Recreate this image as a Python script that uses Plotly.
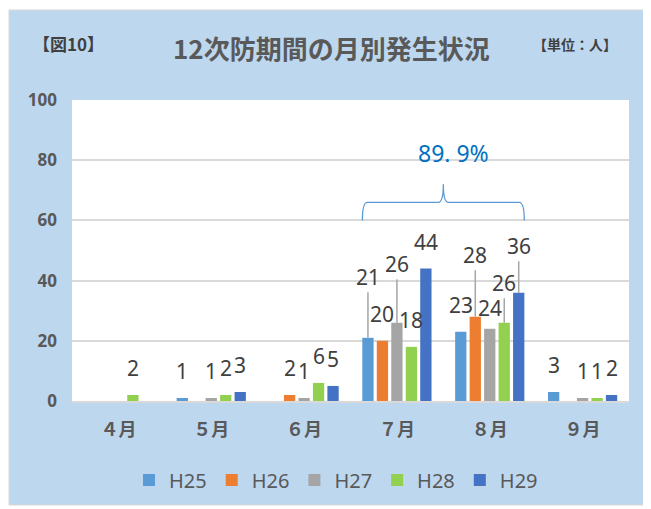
import plotly.graph_objects as go

# ---- data ----
months = ["４月", "５月", "６月", "７月", "８月", "９月"]
series_names = ["H25", "H26", "H27", "H28", "H29"]
h25 = [0, 1, 0, 21, 23, 3]
h26 = [0, 0, 2, 20, 28, 0]
h27 = [0, 1, 1, 26, 24, 1]
h28 = [2, 2, 6, 18, 26, 1]
h29 = [0, 3, 5, 44, 36, 2]
values = [h25, h26, h27, h28, h29]
colors = ["#5B9BD5", "#ED7D31", "#A5A5A5", "#92D050", "#4472C4"]
summer_share = "89. 9%"

# ---- layout geometry ----
# page body has an 8px default margin, so figure is sized to fit the window
OFF = 8
WIN_W, WIN_H = 651, 509
W, H = WIN_W - OFF, WIN_H - OFF
# plot area in window pixels: x 72..629, y 100..401
L, R, T, B = 72 - OFF, WIN_W - 629, 100 - OFF, WIN_H - 401
PW, PH = W - L - R, H - T - B
BARGAP = 0.22

def px2x(px):  # window px -> paper x
    return (px - OFF - L) / PW

def px2y(py):  # window px -> paper y
    return (H - B - (py - OFF)) / PH

def bar_index_pos(month_i, series_i, n=len(series_names)):
    group = 1 - BARGAP
    return month_i - group / 2 + (series_i + 0.5) * group / n

def idx2paper(u):
    return (u + 0.5) / len(months)

# label lifts (px above bar top) for labels moved in the original; default 27
default_lift = 27
moved = {(0, 3): 61, (2, 3): 59, (1, 4): 62, (3, 4): 40, (4, 4): 47}
tweak = {(2, 4): 21}

fig = go.Figure()
for si, name in enumerate(series_names):
    fig.add_trace(go.Bar(x=months, y=values[si], name=name,
                         marker=dict(color=colors[si], line=dict(width=0))))

annotations = []
for si in range(len(series_names)):
    for mi, v in enumerate(values[si]):
        if v == 0:
            continue
        xpos = bar_index_pos(mi, si)
        if (si, mi) in moved:
            annotations.append(dict(
                x=xpos, y=v, xref="x", yref="y", text=str(v),
                showarrow=True, ax=0, ay=-moved[(si, mi)], arrowhead=0,
                arrowwidth=1.5, arrowcolor="#A6A6A6", standoff=0,
                font=dict(size=21, color="#404040", family="Noto Sans")))
        else:
            lift = tweak.get((si, mi), default_lift)
            annotations.append(dict(
                x=xpos, y=v, xref="x", yref="y", text=str(v),
                showarrow=False, yanchor="middle", yshift=lift,
                font=dict(size=21, color="#404040", family="Noto Sans")))

# titles
annotations.append(dict(x=px2x(331), y=px2y(47), xref="paper", yref="paper",
                        text="<b>12次防期間の月別発生状況</b>", showarrow=False,
                        xanchor="center", yanchor="middle",
                        font=dict(size=26, color="#595959", family="Noto Sans CJK JP")))
annotations.append(dict(x=px2x(31), y=px2y(44), xref="paper", yref="paper",
                        text="<b>【図10】</b>", showarrow=False,
                        xanchor="left", yanchor="middle",
                        font=dict(size=17, color="#404040", family="Noto Sans CJK JP")))
annotations.append(dict(x=px2x(619), y=px2y(44), xref="paper", yref="paper",
                        text="<b>【単位：人】</b>", showarrow=False,
                        xanchor="right", yanchor="middle",
                        font=dict(size=14, color="#404040", family="Noto Sans CJK JP")))

# brace over July-August
xl = idx2paper(bar_index_pos(3, 0) - 0.06)
xr = idx2paper(bar_index_pos(4, 4) + 0.06)
xm = idx2paper(3.5)
rx = 5 / PW
yb, yh, yt = 60, 66, 72
brace = (f"M {xl},{yb} Q {xl},{yh} {xl+rx},{yh} L {xm-rx},{yh} "
         f"Q {xm},{yh} {xm},{yt} Q {xm},{yh} {xm+rx},{yh} "
         f"L {xr-rx},{yh} Q {xr},{yh} {xr},{yb}")
annotations.append(dict(x=xm + 10 / PW, y=82.5, xref="paper", yref="y",
                        text=summer_share, showarrow=False,
                        xanchor="center", yanchor="middle",
                        font=dict(size=23, color="#0070C0", family="Noto Sans")))

shapes = [
    dict(type="rect", xref="paper", yref="paper", layer="below",
         x0=px2x(9), x1=px2x(645), y0=px2y(505), y1=px2y(10),
         fillcolor="#BDD7EE", line=dict(color="#D9D9D9", width=1)),
    dict(type="rect", xref="paper", yref="paper", layer="below",
         x0=0, x1=1, y0=0, y1=1, fillcolor="#FFFFFF", line=dict(width=0)),
    dict(type="path", xref="paper", yref="y", path=brace,
         line=dict(color="#5B9BD5", width=1.3)),
]

fig.update_layout(
    width=W, height=H,
    margin=dict(l=L, r=R, t=T, b=B, autoexpand=False),
    paper_bgcolor="#FFFFFF", plot_bgcolor="#FFFFFF",
    barmode="group", bargap=BARGAP, bargroupgap=0.22,
    showlegend=True,
    legend=dict(orientation="h", x=px2x(336), xanchor="center",
                y=px2y(480), yanchor="middle",
                font=dict(size=20, color="#595959", family="Noto Sans"),
                bgcolor="rgba(0,0,0,0)"),
    annotations=annotations, shapes=shapes,
    font=dict(family="Noto Sans CJK JP"),
)
fig.update_yaxes(range=[0, 100], dtick=20, showgrid=True,
                 gridcolor="#D9D9D9", gridwidth=1.5,
                 zeroline=False, showline=False,
                 ticklabelstandoff=14,
                 tickfont=dict(size=17, color="#595959", family="Noto Sans", weight="bold"))
fig.update_xaxes(showgrid=False, showline=True, linecolor="#D9D9D9", linewidth=1.5,
                 ticklabelstandoff=12,
                 tickfont=dict(size=18, color="#595959", family="Noto Sans CJK JP", weight="bold"))

fig.write_html("out.html")
